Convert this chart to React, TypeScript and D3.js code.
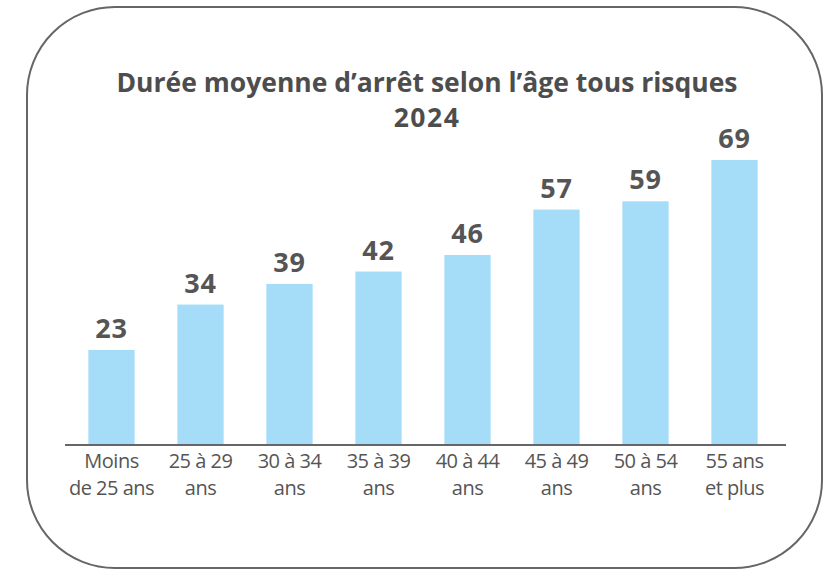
import * as d3 from "d3";
import React, { useEffect, useRef } from "react";

// catégories (deux lignes par libellé) et valeurs
const ageLine1 = ["Moins", "25 à 29", "30 à 34", "35 à 39", "40 à 44", "45 à 49", "50 à 54", "55 ans"];
const ageLine2 = ["de 25 ans", "ans", "ans", "ans", "ans", "ans", "ans", "et plus"];
const dureeMoyenne = [23, 34, 39, 42, 46, 57, 59, 69];
const titleLines = ["Durée moyenne d’arrêt selon l’âge tous risques", "2024"];

const App = () => {
  const svgRef = useRef<SVGSVGElement>(null);

  useEffect(() => {
    const width = 834;
    const height = 570;
    const svg = d3.select(svgRef.current).attr("width", width).attr("height", height);
    svg.selectAll("*").remove();

    const baseY = 445;
    const font = "'Open Sans', sans-serif";
    const grey = "#555555";

    // cadre arrondi
    svg
      .append("rect")
      .attr("x", 27)
      .attr("y", 7)
      .attr("width", 795)
      .attr("height", 561)
      .attr("rx", 88)
      .attr("ry", 88)
      .attr("fill", "#fff")
      .attr("stroke", "#666")
      .attr("stroke-width", 2);

    // titre
    svg
      .append("g")
      .selectAll("text")
      .data(titleLines)
      .join("text")
      .attr("x", 427)
      .attr("y", (d, i) => 92 + i * 35)
      .attr("text-anchor", "middle")
      .attr("font-family", font)
      .attr("font-weight", 700)
      .attr("font-size", 26.5)
      .attr("letter-spacing", (d, i) => (i === 1 ? 1.5 : 0))
      .attr("fill", "#4d4d4d")
      .text((d) => d);

    const xScale = d3
      .scaleBand()
      .domain(ageLine1)
      .range([67, 779])
      .paddingInner(0.48)
      .paddingOuter(0.24);

    const yScale = d3.scaleLinear().domain([0, 69]).range([baseY, 160]);

    const g = svg.append("g");

    // barres
    g.selectAll("rect.bar")
      .data(dureeMoyenne)
      .join("rect")
      .attr("class", "bar")
      .attr("x", (d, i) => xScale(ageLine1[i]))
      .attr("y", (d) => yScale(d))
      .attr("width", xScale.bandwidth())
      .attr("height", (d) => baseY - yScale(d))
      .attr("fill", "#a5ddf8");

    // valeurs au-dessus des barres
    g.selectAll("text.val")
      .data(dureeMoyenne)
      .join("text")
      .attr("class", "val")
      .attr("x", (d, i) => xScale(ageLine1[i]) + xScale.bandwidth() / 2)
      .attr("y", (d) => yScale(d) - 12)
      .attr("text-anchor", "middle")
      .attr("font-family", font)
      .attr("font-weight", 700)
      .attr("font-size", 27)
      .attr("letter-spacing", 0.8)
      .attr("fill", grey)
      .text((d) => d);

    // axe x
    const axis = g
      .append("g")
      .attr("transform", `translate(0,${baseY})`)
      .call(d3.axisBottom(xScale).tickSize(0).tickFormat(() => ""));
    axis.select(".domain").attr("d", "M-2,0H719").attr("transform", "translate(67,0)").attr("stroke", "#666").attr("stroke-width", 2);

    axis
      .selectAll(".tick")
      .each(function (d, i) {
        const t = d3.select(this);
        t.select("text").remove();
        const lab = t
          .append("text")
          .attr("text-anchor", "middle")
          .attr("font-family", font)
          .attr("font-size", 20)
          .attr("letter-spacing", -0.5)
          .attr("fill", grey);
        lab.append("tspan").attr("x", 0).attr("y", 23).text(ageLine1[i]);
        lab.append("tspan").attr("x", 0).attr("y", 50).text(ageLine2[i]);
      });
  }, []);

  return (
    <div style={{ position: "absolute", left: 0, top: 0 }}>
      <svg ref={svgRef}></svg>
    </div>
  );
};

export default App;
